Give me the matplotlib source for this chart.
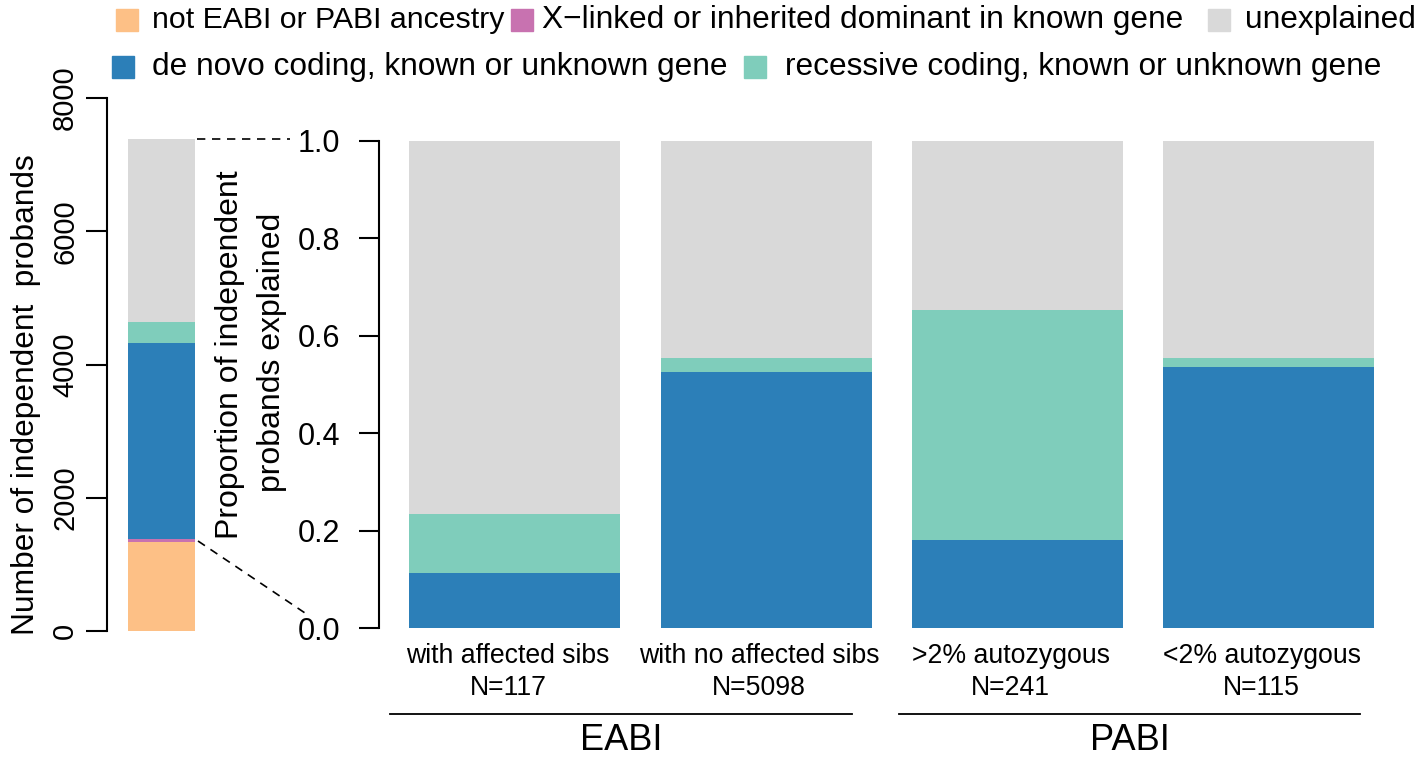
import matplotlib
matplotlib.use("Agg")
import matplotlib.pyplot as plt
import matplotlib.transforms as mtransforms
from matplotlib.lines import Line2D
from matplotlib.patches import Rectangle

plt.rcParams["font.family"] = ["Liberation Sans", "DejaVu Sans"]

W, H = 1423, 757


def fx(x):
    return x / W


def fy(y):
    return 1 - y / H


# left panel: counts of independent probands
left_segments = ["not EABI or PABI ancestry", "X\u2212linked or inherited dominant in known gene",
                 "de novo coding, known or unknown gene", "recessive coding, known or unknown gene",
                 "unexplained"]
left_counts = [1343, 45, 2937, 310, 2752]

# right panel: proportions per group
groups = ["with affected sibs\nN=117", "with no affected sibs\nN=5098",
          ">2% autozygous\nN=241", "<2% autozygous\nN=115"]
denovo = [0.113, 0.525, 0.180, 0.535]
recessive = [0.121, 0.030, 0.474, 0.020]
unexplained = [1 - a - b for a, b in zip(denovo, recessive)]

ancestry = ["EABI", "PABI"]

colors = {
    "not": "#fdc086",
    "xl": "#c872b0",
    "dn": "#2c7fb8",
    "rec": "#7fcdbb",
    "un": "#d9d9d9",
}
left_colors = [colors["not"], colors["xl"], colors["dn"], colors["rec"], colors["un"]]

fig = plt.figure(figsize=(W / 100, H / 100), dpi=100)

# ---- left stacked count bar
axL = fig.add_axes([fx(107), fy(631), (215 - 107) / W, (631 - 98) / H])
bottom = 0
for val, col in zip(left_counts, left_colors):
    axL.bar(0.505, val, width=0.62, bottom=bottom, color=col, linewidth=0)
    bottom += val
axL.set_xlim(0, 1)
axL.set_ylim(0, 8000)
axL.set_yticks([0, 2000, 4000, 6000, 8000])
axL.set_yticklabels(["0", "2000", "4000", "6000", "8000"], rotation=90, va="center")
axL.tick_params(axis="y", length=15, width=1.5, labelsize=21, pad=5)
axL.set_xticks([])
for s in ["top", "right", "bottom"]:
    axL.spines[s].set_visible(False)
axL.spines["left"].set_linewidth(1.5)
fig.text(fx(26), fy(395), "Number of independent  probands", rotation=90, fontsize=22.8,
         ha="center", va="center")

# ---- right proportion bars
axR = fig.add_axes([fx(379), fy(628), (1400 - 379) / W, (628 - 141) / H])
xs = list(range(len(groups)))
axR.bar(xs, denovo, width=0.84, color=colors["dn"], linewidth=0)
axR.bar(xs, recessive, width=0.84, bottom=denovo, color=colors["rec"], linewidth=0)
axR.bar(xs, unexplained, width=0.84, bottom=[a + b for a, b in zip(denovo, recessive)],
        color=colors["un"], linewidth=0)
axR.set_xlim(-0.541, 3.522)
axR.set_ylim(0, 1)
axR.set_yticks([0, 0.2, 0.4, 0.6, 0.8, 1.0])
axR.set_yticklabels(["0.0", "0.2", "0.4", "0.6", "0.8", "1.0"])
axR.tick_params(axis="y", length=14.5, width=1.5, labelsize=22, pad=13.5)
axR.set_xticks(xs)
axR.set_xticklabels(groups, fontsize=19.2, linespacing=1.3)
axR.tick_params(axis="x", length=0, pad=11)
shift = mtransforms.ScaledTranslation(-7 / 100, 0, fig.dpi_scale_trans)
for lab in axR.get_xticklabels():
    lab.set_transform(lab.get_transform() + shift)
for s in ["top", "right", "bottom"]:
    axR.spines[s].set_visible(False)
axR.spines["left"].set_linewidth(1.5)

fig.text(fx(230), fy(355), "Proportion of independent", rotation=90, fontsize=23,
         ha="center", va="center")
fig.text(fx(272), fy(352), "probands explained", rotation=90, fontsize=23,
         ha="center", va="center")

# group lines and labels
for name, (x0, x1) in zip(ancestry, [(390, 852), (899, 1360)]):
    fig.add_artist(Line2D([fx(x0), fx(x1)], [fy(714), fy(714)], color="black", lw=1.3))
    fig.text(fx((x0 + x1) / 2), fy(741), name, fontsize=26, ha="center", va="center")

# zoom connector lines
fig.add_artist(Line2D([fx(197), fx(290)], [fy(139), fy(139)], color="black", lw=1.2,
                      linestyle=(0, (5, 4))))
fig.add_artist(Line2D([fx(198), fx(305)], [fy(541), fy(613)], color="black", lw=1.2,
                      linestyle=(0, (5, 4))))

# legend
legend_items = [
    (116, 20, 152, left_segments[0], colors["not"], 21.8),
    (511, 20, 542, left_segments[1], colors["xl"], 22.8),
    (1208, 20, 1245, left_segments[4], colors["un"], 22.8),
    (112, 67, 152, left_segments[2], colors["dn"], 22.8),
    (744, 67, 785, left_segments[3], colors["rec"], 22.8),
]
sq = 22
for sx, cy, tx, label, col, fs in legend_items:
    fig.add_artist(Rectangle((fx(sx), fy(cy + sq / 2)), sq / W, sq / H, color=col,
                             transform=fig.transFigure))
    fig.text(fx(tx), fy(cy), label, fontsize=fs, ha="left", va="center")

fig.savefig("out.png", dpi=100)
